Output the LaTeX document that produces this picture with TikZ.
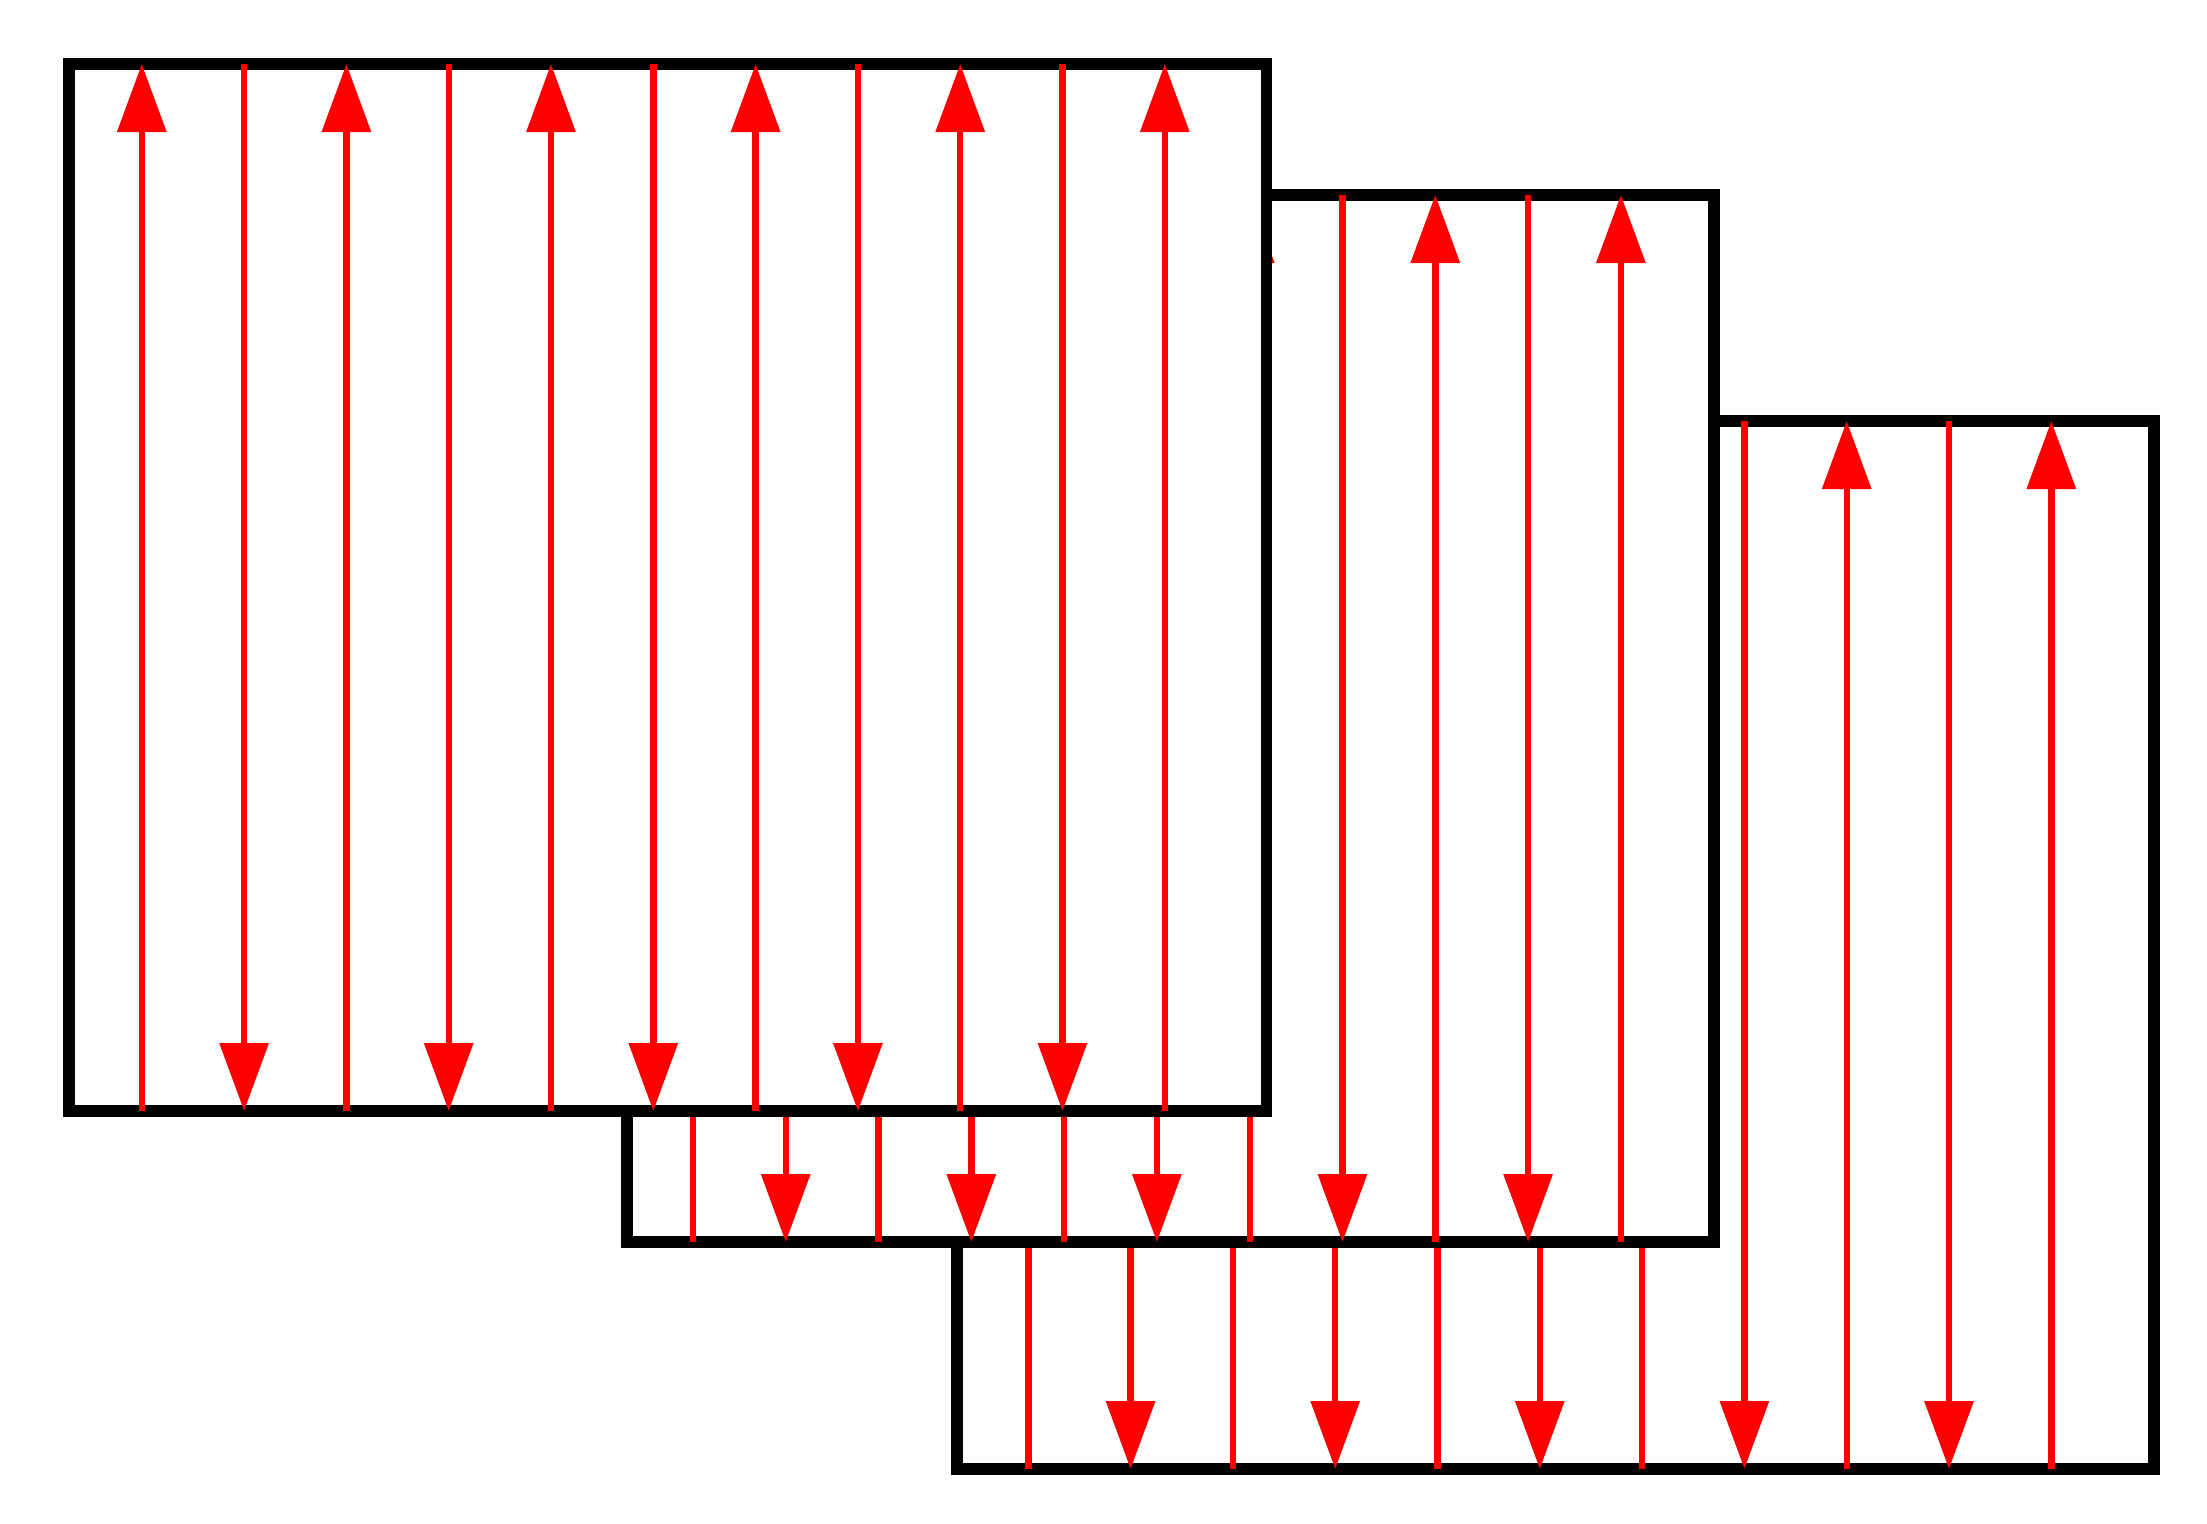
\documentclass[tikz,border=0pt]{standalone}
\usetikzlibrary{arrows.meta}
\begin{document}
\begin{tikzpicture}[x=0.25pt,y=-0.25pt,
  plate/.style={draw=black,line width=2.9pt,fill=white},
  field/.style={draw=red,line width=1.6pt},
  fieldtip/.style={field,-{Triangle[length=17pt,width=12pt]}}]
\useasboundingbox (0,0) rectangle (2207,1523);
% #1 name, #2 x0, #3 y0, #4 x1, #5 y1, #6 first line x, #7 spacing
\newcommand\drawplate[7]{%
  \coordinate (#1nw) at (#2,#3);
  \coordinate (#1se) at (#4,#5);
  \draw[plate] (#1nw) rectangle (#1se);
  \foreach \k in {0,...,10}{%
    \pgfmathsetmacro\xx{#6+\k*#7}%
    \coordinate (#1t\k) at (\xx,#3);
    \coordinate (#1b\k) at (\xx,#5);
    \ifodd\k
      \draw[fieldtip] (#1t\k) -- (#1b\k);
    \else
      \draw[fieldtip] (#1b\k) -- (#1t\k);
    \fi
  }%
}
\drawplate{c}{957}{421}{2154}{1469}{1028.3}{102.3}
\drawplate{b}{627}{195}{1714}{1242}{692.9}{92.8}
\drawplate{a}{69}{64}{1266.5}{1111}{141.8}{102.3}
\end{tikzpicture}
\end{document}
